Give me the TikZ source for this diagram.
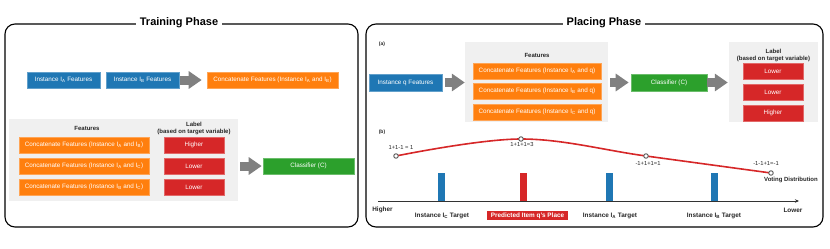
\documentclass[tikz,border=0pt]{standalone}
\usepackage{fontspec}
\setmainfont{Liberation Sans}
\usepackage{xcolor}
\usetikzlibrary{arrows.meta,positioning,calc}
\definecolor{tabblue}{HTML}{1F77B4}
\definecolor{taborange}{HTML}{FF7F0E}
\definecolor{tabred}{HTML}{D62728}
\definecolor{tabgreen}{HTML}{2CA02C}
\definecolor{bggray}{HTML}{F0F0F0}
\tikzset{
  panel/.style={draw,line width=1.1pt,rounded corners=10pt},
  ptitle/.style={fill=white,inner sep=4pt,font=\fontsize{11}{13}\selectfont\bfseries},
  cell/.style={fill=#1,draw=#1!70!white,line width=0.6pt,minimum height=16pt,inner sep=0pt,text=white,font=\fontsize{6.3}{7.5}\selectfont},
  bgbox/.style={fill=bggray,inner sep=0pt},
  head/.style={align=center,inner sep=0pt,text=black!85,font=\fontsize{6}{7}\selectfont\bfseries},
  tag/.style={inner sep=0pt,text=black!85,font=\fontsize{6.4}{7.5}\selectfont\bfseries},
  sumlab/.style={inner sep=0pt,text=black!85,font=\fontsize{5.8}{7}\selectfont},
  bigarr/.style={draw=black!50,line width=9pt,-{Triangle[length=13pt,width=17pt]}},
  dot/.style={circle,draw=black!65,fill=white,line width=0.9pt,minimum size=4.5pt,inner sep=0pt},
}
\newcommand{\I}[1]{I\textsubscript{#1}}
\begin{document}
\begin{tikzpicture}[x=1pt,y=-1pt]
\useasboundingbox (0,0) rectangle (830,249);
% training phase
\draw[panel] (5,24) rectangle (358,227);
\node[ptitle] (trtitle) at (179,23) {Training Phase};
\node[cell=tabblue,minimum width=73pt] (insta) at (63.5,80) {Instance \I{A} Features};
\node[cell=tabblue,minimum width=73pt] (instb) at (142.5,80) {Instance \I{B} Features};
\node[cell=taborange,minimum width=131pt] (catab) at (272.5,80) {Concatenate Features (Instance \I{A} and \I{B})};
\draw[bigarr,shorten <=1pt,shorten >=5pt] (instb.east) -- (catab.west);
\node[bgbox,minimum width=229pt,minimum height=82pt] (trbg) at (123.5,160) {};
\node[head] (trfeat) at (87,128) {Features};
\node[head] (trlab) at (194,128) {Label\\(based on target variable)};
\foreach \i/\y/\a/\b/\lab in {1/145/A/B/Higher,2/166/A/C/Lower,3/187/B/C/Lower}
{\node[cell=taborange,minimum width=130pt] (trcat\i) at (84,\y) {Concatenate Features (Instance \I{\a} and \I{\b})};
 \node[cell=tabred,minimum width=60pt] (trred\i) at (194,\y) {\lab};}
\node[cell=tabgreen,minimum width=91pt] (trclf) at (308.5,166) {Classifier (C)};
\draw[bigarr,shorten <=2pt,shorten >=1pt] (trbg.east |- trclf.west) -- (trclf.west);
% placing phase
\draw[panel] (366,24) rectangle (823,227);
\node[ptitle] (pltitle) at (604,23) {Placing Phase};
\node[head,font=\fontsize{5}{6}\selectfont\bfseries] (parta) at (382,44) {(a)};
\node[cell=tabblue,minimum width=73pt,minimum height=17pt] (instq) at (405.5,82.5) {Instance q Features};
\node[bgbox,minimum width=143pt,minimum height=80pt] (plbg) at (536.5,82) {};
\node[head] (plfeat) at (537,55) {Features};
\foreach \i/\y/\a in {1/71/A,2/91/B,3/112/C}
{\node[cell=taborange,minimum width=128pt] (plcat\i) at (537,\y) {Concatenate Features (Instance \I{\a} and q)};}
\node[cell=tabgreen,minimum width=76pt,minimum height=17pt] (plclf) at (669,82.5) {Classifier (C)};
\node[bgbox,minimum width=89pt,minimum height=80pt] (labbg) at (773.5,82) {};
\node[head] (pllab) at (773.5,55.5) {Label\\(based on target variable)};
\foreach \i/\y/\lab in {1/71/Lower,2/92/Lower,3/113/Higher}
{\node[cell=tabred,minimum width=60pt] (plred\i) at (773,\y) {\lab};}
\draw[bigarr,shorten <=3pt,shorten >=0pt] (instq.east) -- (plbg.west |- instq.east);
\draw[bigarr,shorten <=2pt,shorten >=2pt] (plbg.east |- plclf.west) -- (plclf.west);
\draw[bigarr,shorten <=0pt,shorten >=1pt] (plclf.east) -- (labbg.west |- plclf.east);
% voting distribution
\node[head,font=\fontsize{5}{6}\selectfont\bfseries] (partb) at (382,132) {(b)};
\coordinate (ax0) at (378,201);
\coordinate (ax1) at (799,201);
\foreach \x/\c in {441.5/tabblue,523.5/tabred,609.5/tabblue,714/tabblue}
{\fill[\c] ({\x-3.5},173) rectangle ({\x+3.5},201);}
\draw[black!80,line width=0.8pt,-{Stealth[length=4pt,width=3.5pt]}] (ax0) -- (ax1);
\coordinate (p1) at (396,156);
\coordinate (p2) at (521,139);
\coordinate (p3) at (646,156);
\coordinate (p4) at (771,173);
\draw[tabred,line width=1.6pt] plot[smooth,tension=0.6] coordinates {(p1) (p2) (p3) (p4)};
\foreach \p in {p1,p2,p3,p4} {\node[dot] (\p dot) at (\p) {};}
\node[sumlab] (s1) at (401,148) {1+1-1 = 1};
\node[sumlab] (s2) at (522,144.5) {1+1+1=3};
\node[sumlab] (s3) at (648,164) {-1+1+1=1};
\node[sumlab] (s4) at (766,164) {-1-1+1=-1};
\node[tag,font=\fontsize{6}{7}\selectfont\bfseries] (vote) at (791,180) {Voting Distribution};
\node[tag] (high) at (382.5,210) {Higher};
\node[tag] (low) at (793,210) {Lower};
\node[tag] (tgtc) at (442,216) {Instance \I{C} Target};
\node[tag,fill=tabred,text=white,minimum width=81pt,minimum height=9pt] (qplace) at (527.5,215.5) {Predicted Item q's Place};
\node[tag] (tgta) at (610,216) {Instance \I{A} Target};
\node[tag] (tgtb) at (714,216) {Instance \I{B} Target};
\end{tikzpicture}
\end{document}
